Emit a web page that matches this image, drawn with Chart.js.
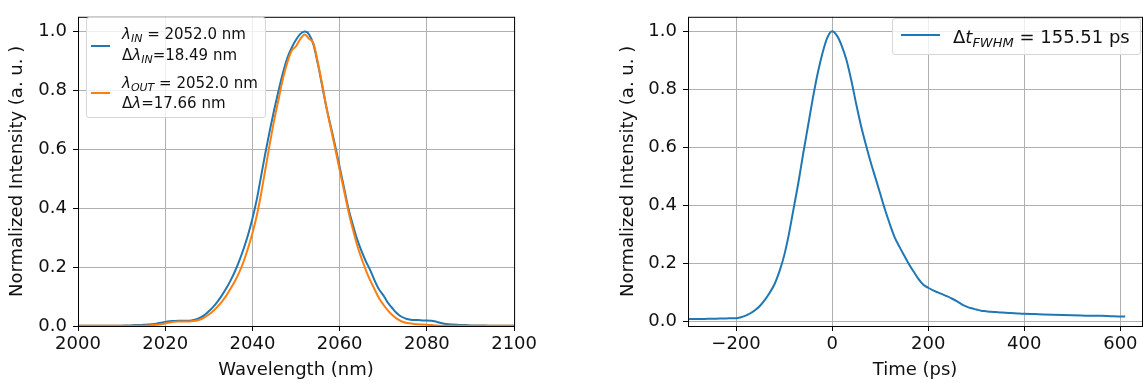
<!DOCTYPE html>
<html>
<head>
<meta charset="utf-8">
<script src="https://cdn.jsdelivr.net/npm/chart.js@4.4.0/dist/chart.umd.min.js"></script>
<style>
  body { margin: 0; background: #fff; width: 1143px; height: 383px; overflow: hidden; position: relative; font-family: "DejaVu Sans", sans-serif; }
  canvas { position: absolute; top: 0; }
  #specChart { left: 0; }
  #pulseChart { left: 610px; }
  .legend { position: absolute; background: rgba(255,255,255,0.8); border: 1px solid #d6d6d6; border-radius: 3px; box-sizing: border-box; }
  .leg-line { position: absolute; height: 2px; }
  .leg-text { position: absolute; white-space: nowrap; color: #111; }
  .leg-text i { font-style: italic; }
  .leg-text sub { font-style: italic; line-height: 0; }
  #legL .leg-text { font-size: 15px; line-height: 20px; height: 20px; }
  #legL sub { font-size: 11px; vertical-align: -3px; }
  #legR .leg-text { font-size: 18px; line-height: 22px; height: 22px; }
  #legR sub { font-size: 13px; vertical-align: -4px; }
</style>
</head>
<body>
<canvas id="specChart" width="540" height="383"></canvas>
<canvas id="pulseChart" width="533" height="383"></canvas>

<div class="legend" id="legL" style="left:86px;top:17px;width:180px;height:101px;">
  <div class="leg-line" style="left:4px;top:27px;width:19px;background:#1f77b4;"></div>
  <div class="leg-line" style="left:4px;top:74px;width:19px;background:#ff7f0e;"></div>
  <div class="leg-text" style="left:35px;top:6px;"><i>λ</i><sub>IN</sub> = 2052.0 nm</div>
  <div class="leg-text" style="left:35px;top:27px;">Δ<i>λ</i><sub>IN</sub>=18.49 nm</div>
  <div class="leg-text" style="left:35px;top:55px;"><i>λ</i><sub>OUT</sub> = 2052.0 nm</div>
  <div class="leg-text" style="left:35px;top:75px;">Δ<i>λ</i>=17.66 nm</div>
</div>

<div class="legend" id="legR" style="left:892px;top:18px;width:249px;height:37px;">
  <div class="leg-line" style="left:8px;top:15px;width:39px;background:#1f77b4;"></div>
  <div class="leg-text" style="left:60px;top:7px;">Δ<i>t</i><sub>FWHM</sub> = 155.51 ps</div>
</div>

<script>
// spectrum (left)
var wavelength = [];
for (var w = 2000; w <= 2100; w++) wavelength.push(w);

var specIn = [
  0.001, 0.001, 0.001, 0.001, 0.001, 0.001, 0.001, 0.001, 0.001, 0.001,
  0.001, 0.002, 0.002, 0.003, 0.003, 0.004, 0.005, 0.006, 0.008, 0.011,
  0.014, 0.016, 0.017, 0.018, 0.018, 0.018, 0.019, 0.022, 0.028, 0.037,
  0.050, 0.065, 0.083, 0.104, 0.128, 0.155, 0.186, 0.222, 0.263, 0.310,
  0.365, 0.430, 0.510, 0.590, 0.665, 0.735, 0.800, 0.860, 0.910, 0.945,
  0.972, 0.992, 1.000, 0.990, 0.955, 0.890, 0.815, 0.740, 0.675, 0.610,
  0.540, 0.470, 0.400, 0.345, 0.295, 0.255, 0.220, 0.190, 0.155, 0.125,
  0.105, 0.080, 0.062, 0.045, 0.033, 0.026, 0.022, 0.020, 0.020, 0.019,
  0.019, 0.018, 0.015, 0.011, 0.008, 0.006, 0.005, 0.004, 0.003, 0.003,
  0.002, 0.002, 0.002, 0.002, 0.001, 0.001, 0.001, 0.001, 0.001, 0.001,
  0.001
];

var specOut = [
  0.001, 0.001, 0.001, 0.001, 0.001, 0.001, 0.001, 0.001, 0.001, 0.001,
  0.001, 0.001, 0.001, 0.001, 0.001, 0.001, 0.002, 0.003, 0.004, 0.006,
  0.009, 0.012, 0.014, 0.015, 0.015, 0.015, 0.016, 0.018, 0.022, 0.029,
  0.039, 0.051, 0.066, 0.083, 0.103, 0.127, 0.153, 0.183, 0.220, 0.265,
  0.315, 0.375, 0.450, 0.535, 0.620, 0.700, 0.770, 0.840, 0.895, 0.935,
  0.950, 0.975, 0.990, 0.975, 0.960, 0.895, 0.820, 0.740, 0.670, 0.600,
  0.530, 0.460, 0.390, 0.330, 0.275, 0.230, 0.190, 0.155, 0.125, 0.095,
  0.073, 0.054, 0.038, 0.026, 0.017, 0.012, 0.009, 0.007, 0.006, 0.005,
  0.004, 0.003, 0.002, 0.001, 0.001, 0.001, 0.001, 0.001, 0.001, 0.001,
  0.001, 0.001, 0.001, 0.001, 0.001, 0.001, 0.001, 0.001, 0.001, 0.001,
  0.001
];

var specXTicks = [2000, 2020, 2040, 2060, 2080, 2100];
var yTicks = [0.0, 0.2, 0.4, 0.6, 0.8, 1.0];

// pulse (right)
var time = [
  -300, -290, -280, -270, -260, -250, -240, -230, -220, -210,
  -200, -190, -180, -170, -160, -150, -140, -130, -120, -110,
  -100, -90, -80, -70, -60, -50, -40, -30, -20, -10,
  0, 10, 20, 30, 40, 50, 60, 70, 80, 90,
  100, 110, 120, 130, 140, 150, 160, 170, 180, 190,
  200, 210, 220, 230, 240, 250, 260, 270, 280, 290,
  300, 310, 320, 330, 340, 350, 360, 370, 380, 390,
  400, 420, 440, 460, 480, 500, 520, 540, 560, 580,
  600, 610
];
var pulse = [
  0.007, 0.007, 0.007, 0.007, 0.008, 0.008, 0.008, 0.009, 0.009, 0.010,
  0.010, 0.013, 0.019, 0.027, 0.038, 0.053, 0.073, 0.098, 0.127, 0.170,
  0.225, 0.300, 0.390, 0.480, 0.580, 0.675, 0.770, 0.855, 0.925, 0.978,
  1.000, 0.985, 0.950, 0.900, 0.830, 0.750, 0.675, 0.610, 0.550, 0.495,
  0.440, 0.385, 0.335, 0.290, 0.257, 0.226, 0.196, 0.170, 0.145, 0.125,
  0.115, 0.106, 0.099, 0.092, 0.085, 0.077, 0.068, 0.058, 0.050, 0.044,
  0.040, 0.036, 0.034, 0.032, 0.031, 0.030, 0.029, 0.028, 0.027, 0.026,
  0.025, 0.024, 0.023, 0.022, 0.021, 0.020, 0.019, 0.018, 0.018, 0.017,
  0.016, 0.016
];
var pulseXTicks = [-200, 0, 200, 400, 600];

var BLUE = '#1f77b4';
var ORANGE = '#ff7f0e';
var FONT = { family: 'DejaVu Sans', size: 18 };

Chart.defaults.color = '#111';
Chart.defaults.font.family = 'DejaVu Sans';

// axes box like matplotlib spines
var frame = {
  id: 'frame',
  afterDraw: function (c) {
    var a = c.chartArea, ctx = c.ctx;
    ctx.save();
    ctx.strokeStyle = '#000';
    ctx.lineWidth = 1;
    ctx.strokeRect(a.left + 0.5, a.top + 0.5, a.right - a.left, a.bottom - a.top);
    ctx.restore();
  }
};

function pts(xs, ys) {
  return xs.map(function (x, i) { return { x: x, y: ys[i] }; });
}

function minusSign(v) {
  return String(v).replace('-', '\u2212');
}

function axes(xmin, xmax, xt, ymin, ymax, xTitle, yPad) {
  return {
    x: {
      type: 'linear', min: xmin, max: xmax,
      afterBuildTicks: function (s) { s.ticks = xt.map(function (v) { return { value: v }; }); },
      afterFit: function (s) { s.height = 57; },
      border: { display: false },
      grid: { color: '#b0b0b0', lineWidth: 1, tickColor: '#000', tickLength: 5 },
      ticks: { font: FONT, padding: 3, maxRotation: 0, autoSkip: false, callback: minusSign },
      title: { display: true, text: xTitle, font: FONT, padding: { top: 0, bottom: 2 } }
    },
    y: {
      type: 'linear', min: ymin, max: ymax,
      afterBuildTicks: function (s) { s.ticks = yTicks.map(function (v) { return { value: v }; }); },
      afterFit: function (s) { s.width = 78; },
      border: { display: false },
      grid: { color: '#b0b0b0', lineWidth: 1, tickColor: '#000', tickLength: 5 },
      ticks: { font: FONT, padding: 6, autoSkip: false, callback: function (v) { return v.toFixed(1); } },
      title: { display: true, text: 'Normalized Intensity (a. u. )', font: FONT, padding: { top: yPad, bottom: 0 } }
    }
  };
}

var common = {
  responsive: false,
  animation: false,
  events: [],
  plugins: { legend: { display: false }, tooltip: { enabled: false } },
  elements: { point: { radius: 0 }, line: { borderWidth: 2, cubicInterpolationMode: 'monotone' } }
};

new Chart(document.getElementById('specChart').getContext('2d'), {
  type: 'line',
  data: {
    datasets: [
      { data: pts(wavelength, specIn), borderColor: BLUE, order: 1 },
      { data: pts(wavelength, specOut), borderColor: ORANGE, order: 0 }
    ]
  },
  options: Object.assign({}, common, {
    layout: { padding: { left: 0, right: 25, top: 10, bottom: 0 } },
    scales: axes(2000, 2100, specXTicks, 0, 1.05, 'Wavelength (nm)', 7)
  }),
  plugins: [frame]
});

new Chart(document.getElementById('pulseChart').getContext('2d'), {
  type: 'line',
  data: {
    datasets: [
      { data: pts(time, pulse), borderColor: BLUE }
    ]
  },
  options: Object.assign({}, common, {
    layout: { padding: { left: 0, right: 1, top: 10, bottom: 0 } },
    scales: axes(-300, 645, pulseXTicks, -0.017, 1.05, 'Time (ps)', 8)
  }),
  plugins: [frame]
});
</script>
</body>
</html>
